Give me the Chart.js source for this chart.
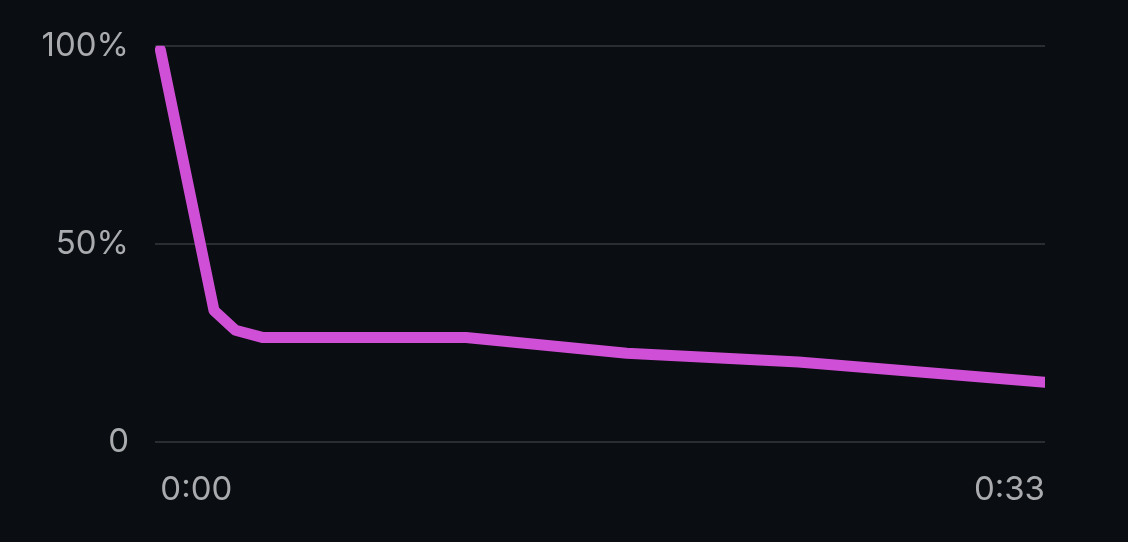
<!DOCTYPE html>
<html>
<head>
<meta charset="utf-8">
<script src="https://cdn.jsdelivr.net/npm/chart.js@4/dist/chart.umd.min.js"></script>
<style>
  html, body { margin: 0; padding: 0; background: #0a0d11; }
  #wrap { width: 1128px; height: 542px; }
</style>
</head>
<body>
<div id="wrap"><canvas id="retention"></canvas></div>
<script>
// seconds into the video vs share of viewers still watching
var seconds = [0, 2, 2.8, 3.8, 11.4, 17.4, 23.8, 33];
var retained = [99, 33.2, 28.2, 26.4, 26.4, 22.4, 20.2, 15.1];
var yTicks = [0, 50, 100];
var xTicks = [0, 33];

function fmtTime(s) {
  var m = Math.floor(s / 60);
  var r = Math.round(s % 60);
  return m + ":" + (r < 10 ? "0" + r : r);
}

var points = seconds.map(function (s, i) { return { x: s, y: retained[i] }; });

new Chart("retention", {
  type: "line",
  data: {
    datasets: [{
      data: points,
      borderColor: "#cf4fd6",
      borderWidth: 11,
      borderCapStyle: "round",
      borderJoinStyle: "round",
      pointRadius: 0,
      tension: 0,
      fill: false
    }]
  },
  options: {
    responsive: true,
    maintainAspectRatio: false,
    animation: false,
    layout: { padding: { left: 0, right: 83, top: 45, bottom: 0 } },
    plugins: { legend: { display: false }, tooltip: { enabled: false } },
    scales: {
      x: {
        type: "linear",
        min: -0.2,
        max: 33,
        afterBuildTicks: function (sc) { sc.ticks = xTicks.map(function (v) { return { value: v }; }); },
        afterFit: function (sc) { sc.height = 100; },
        grid: { display: false },
        border: { display: false },
        ticks: {
          align: "inner",
          maxRotation: 0,
          padding: 20,
          color: "#a9abae",
          font: { family: "Inter", size: 33 },
          callback: function (v) { return fmtTime(v); }
        }
      },
      y: {
        min: 0,
        max: 100,
        afterBuildTicks: function (sc) { sc.ticks = yTicks.map(function (v) { return { value: v }; }); },
        afterFit: function (sc) { sc.width = 155; },
        grid: { color: "#2a2d32", lineWidth: 2, drawTicks: false },
        border: { display: false },
        ticks: {
          padding: 26,
          color: "#a9abae",
          font: { family: "Inter", size: 33 },
          callback: function (v) { return v === 0 ? "0" : v + "%"; }
        }
      }
    }
  }
});
</script>
</body>
</html>
